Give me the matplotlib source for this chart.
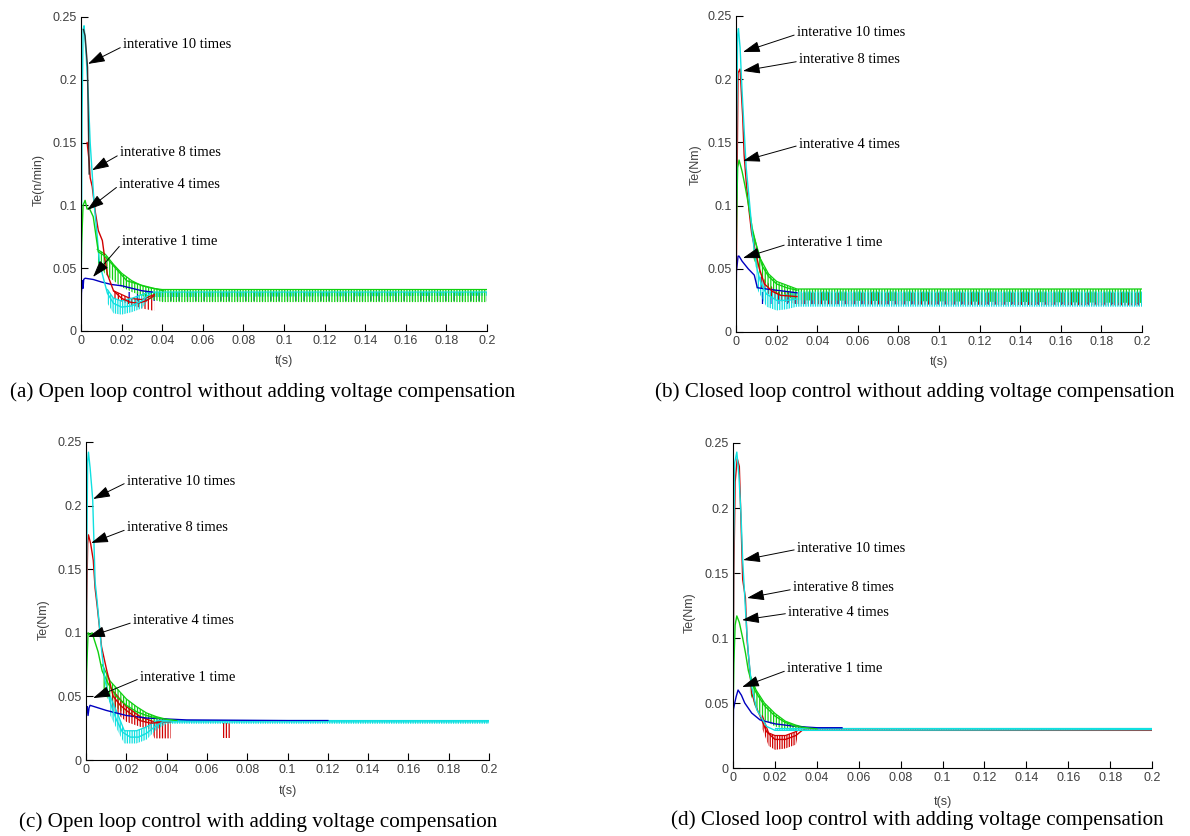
import numpy as np
import matplotlib
matplotlib.use("Agg")
import matplotlib.pyplot as plt
from matplotlib.ticker import FormatStrFormatter

plt.rcParams['hatch.linewidth'] = 0.9

BLUE = '#0000c0'
GREEN = '#10d010'
RED = '#d00000'
CYAN = '#10e0e0'

# ---------------- (a) open loop, no compensation ----------------
a_blue_t = [0, 0.0002, 0.0006, 0.001, 0.0013, 0.002, 0.006, 0.01, 0.015, 0.02, 0.025, 0.03, 0.035]
a_blue_v = [0, 0.03, 0.04, 0.034, 0.041, 0.042, 0.041, 0.039, 0.037, 0.036, 0.034, 0.032, 0.031]
a_green_t = [0, 0.0003, 0.001, 0.002, 0.003, 0.004, 0.006, 0.0085, 0.011, 0.0143, 0.0225, 0.0307, 0.0406]
a_green_v = [0.04, 0.07, 0.1, 0.104, 0.097, 0.098, 0.091, 0.063, 0.0605, 0.055, 0.04, 0.036, 0.032]
a_red_t = [0.003, 0.004, 0.0045, 0.0055, 0.007, 0.0085, 0.0105, 0.0115, 0.013, 0.016, 0.02, 0.024, 0.028, 0.032, 0.036]
a_red_v = [0.15, 0.135, 0.122, 0.115, 0.095, 0.08, 0.072, 0.06, 0.045, 0.032, 0.026, 0.023, 0.022, 0.024, 0.028]
a_cyan_t = [0, 0.0005, 0.001, 0.0015, 0.0025, 0.0035, 0.0045, 0.0055, 0.0065, 0.008, 0.009, 0.011, 0.013, 0.016, 0.02, 0.025, 0.03, 0.034]
a_cyan_v = [0, 0.17, 0.24, 0.243, 0.22, 0.19, 0.15, 0.125, 0.10, 0.075, 0.055, 0.042, 0.03, 0.022, 0.019, 0.02, 0.024, 0.03]
a_dark_t = [0.0012, 0.002, 0.0032, 0.0035, 0.004]
a_dark_v = [0.24, 0.235, 0.21, 0.176, 0.125]
# ripple bands (t, low, high)
a_green_bt = [0.008, 0.012, 0.016, 0.02, 0.025, 0.03, 0.035, 0.04, 0.2]
a_green_lo = [0.055, 0.045, 0.04, 0.035, 0.031, 0.028, 0.025, 0.023, 0.023]
a_green_hi = [0.065, 0.061, 0.053, 0.046, 0.04, 0.036, 0.034, 0.033, 0.033]
a_red_bt = [0.016, 0.024, 0.03, 0.036]
a_red_lo = [0.026, 0.021, 0.018, 0.016]
a_red_hi = [0.032, 0.026, 0.025, 0.029]
a_cyan_bt = [0.013, 0.016, 0.02, 0.025, 0.03, 0.034, 0.2]
a_cyan_lo = [0.022, 0.014, 0.013, 0.015, 0.018, 0.027, 0.028]
a_cyan_hi = [0.033, 0.026, 0.024, 0.026, 0.029, 0.031, 0.031]
a_blue_bt = [0.02, 0.2]
a_blue_lo = [0.024, 0.024]
a_blue_hi = [0.031, 0.031]

# ---------------- (b) closed loop, no compensation ----------------
b_blue_t = [0, 0.0002, 0.0005, 0.001, 0.0015, 0.003, 0.006, 0.009, 0.0105, 0.015, 0.02, 0.03]
b_blue_v = [0, 0.048, 0.052, 0.06, 0.06, 0.056, 0.05, 0.045, 0.035, 0.034, 0.033, 0.031]
b_green_t = [0, 0.0003, 0.0008, 0.0015, 0.003, 0.0045, 0.006, 0.008, 0.0105, 0.013, 0.016, 0.02, 0.025, 0.03]
b_green_v = [0.05, 0.09, 0.13, 0.136, 0.127, 0.115, 0.102, 0.082, 0.065, 0.052, 0.044, 0.038, 0.035, 0.033]
b_red_t = [0, 0.0003, 0.001, 0.002, 0.0033, 0.004, 0.0052, 0.0065, 0.0077, 0.0094, 0.0115, 0.014, 0.018, 0.022, 0.03]
b_red_v = [0, 0.08, 0.205, 0.208, 0.17, 0.14, 0.115, 0.095, 0.078, 0.065, 0.05, 0.038, 0.032, 0.029, 0.028]
b_cyan_t = [0, 0.0003, 0.0008, 0.0012, 0.002, 0.003, 0.004, 0.005, 0.0065, 0.008, 0.01, 0.012, 0.015, 0.02, 0.025, 0.03]
b_cyan_v = [0.0, 0.16, 0.235, 0.24, 0.225, 0.19, 0.16, 0.13, 0.105, 0.078, 0.052, 0.04, 0.03, 0.025, 0.025, 0.026]
b_green_bt = [0.008, 0.012, 0.016, 0.02, 0.03, 0.2]
b_green_lo = [0.06, 0.045, 0.035, 0.03, 0.025, 0.023]
b_green_hi = [0.08, 0.058, 0.046, 0.04, 0.034, 0.034]
b_red_bt = [0.012, 0.02, 0.03, 0.2]
b_red_lo = [0.035, 0.025, 0.022, 0.021]
b_red_hi = [0.045, 0.032, 0.031, 0.031]
b_cyan_bt = [0.01, 0.015, 0.02, 0.025, 0.03, 0.2]
b_cyan_lo = [0.035, 0.02, 0.017, 0.018, 0.02, 0.02]
b_cyan_hi = [0.05, 0.035, 0.03, 0.03, 0.032, 0.032]
b_blue_bt = [0.01, 0.2]
b_blue_lo = [0.022, 0.022]
b_blue_hi = [0.032, 0.032]

# ---------------- (c) open loop, with compensation ----------------
c_blue_t = [0, 0.0002, 0.0006, 0.001, 0.0015, 0.002, 0.004, 0.01, 0.02, 0.03, 0.05, 0.1, 0.12]
c_blue_v = [0.02, 0.04, 0.042, 0.035, 0.041, 0.043, 0.042, 0.039, 0.035, 0.033, 0.0315, 0.031, 0.031]
c_green_t = [0, 0.0003, 0.001, 0.002, 0.003, 0.004, 0.006, 0.008, 0.011, 0.015, 0.02, 0.025, 0.03, 0.035, 0.045]
c_green_v = [0.04, 0.07, 0.1, 0.098, 0.1, 0.095, 0.085, 0.07, 0.06, 0.05, 0.043, 0.038, 0.035, 0.033, 0.031]
c_red_t = [0, 0.0003, 0.0008, 0.0012, 0.0023, 0.0036, 0.0045, 0.0056, 0.0077, 0.0102, 0.0135, 0.017, 0.02, 0.0267, 0.032, 0.042]
c_red_v = [0.05, 0.12, 0.17, 0.177, 0.17, 0.157, 0.135, 0.12, 0.089, 0.071, 0.05, 0.043, 0.039, 0.031, 0.029, 0.03]
c_cyan_t = [0, 0.0003, 0.0008, 0.0012, 0.002, 0.0033, 0.0045, 0.0055, 0.0065, 0.0078, 0.0095, 0.012, 0.015, 0.018, 0.022, 0.026, 0.03, 0.034, 0.038, 0.2]
c_cyan_v = [0, 0.15, 0.235, 0.242, 0.23, 0.205, 0.14, 0.125, 0.108, 0.085, 0.062, 0.045, 0.032, 0.022, 0.018, 0.018, 0.021, 0.026, 0.03, 0.03]
c_green_bt = [0.008, 0.012, 0.016, 0.02, 0.025, 0.03, 0.035, 0.04]
c_green_lo = [0.055, 0.045, 0.04, 0.036, 0.032, 0.03, 0.029, 0.03]
c_green_hi = [0.075, 0.062, 0.055, 0.048, 0.042, 0.037, 0.034, 0.032]
c_red_bt = [0.013, 0.02, 0.027, 0.032, 0.034, 0.042]
c_red_lo = [0.04, 0.03, 0.026, 0.024, 0.017, 0.017]
c_red_hi = [0.055, 0.042, 0.034, 0.031, 0.03, 0.03]
c_red2_bt = [0.068, 0.0715]
c_red2_lo = [0.017, 0.017]
c_red2_hi = [0.029, 0.029]
c_cyan_bt = [0.012, 0.016, 0.019, 0.025, 0.03, 0.035, 0.04, 0.2]
c_cyan_lo = [0.035, 0.022, 0.013, 0.013, 0.016, 0.024, 0.0285, 0.0285]
c_cyan_hi = [0.05, 0.035, 0.023, 0.023, 0.026, 0.031, 0.031, 0.031]

# ---------------- (d) closed loop, with compensation ----------------
d_blue_t = [0, 0.0002, 0.0008, 0.0015, 0.0024, 0.004, 0.0056, 0.0089, 0.0129, 0.02, 0.03, 0.04, 0.052]
d_blue_v = [0, 0.045, 0.05, 0.055, 0.06, 0.056, 0.05, 0.0423, 0.037, 0.034, 0.032, 0.031, 0.031]
d_green_t = [0, 0.0004, 0.001, 0.0018, 0.003, 0.0046, 0.006, 0.0073, 0.009, 0.011, 0.015, 0.02, 0.025, 0.03, 0.04]
d_green_v = [0.04, 0.08, 0.11, 0.117, 0.112, 0.1, 0.088, 0.075, 0.065, 0.058, 0.048, 0.04, 0.035, 0.032, 0.03]
d_red_t = [0, 0.0004, 0.001, 0.002, 0.003, 0.0038, 0.0046, 0.0059, 0.0067, 0.008, 0.0089, 0.011, 0.0137, 0.016, 0.02, 0.025, 0.03, 0.033, 0.2]
d_red_v = [0.05, 0.15, 0.22, 0.238, 0.232, 0.19, 0.145, 0.131, 0.0985, 0.0754, 0.0577, 0.047, 0.037, 0.028, 0.022, 0.022, 0.025, 0.029, 0.029]
d_cyan_t = [0, 0.0003, 0.0008, 0.0018, 0.0028, 0.0038, 0.0046, 0.0062, 0.0073, 0.0089, 0.0113, 0.016, 0.02, 0.03, 0.2]
d_cyan_v = [0, 0.17, 0.235, 0.243, 0.225, 0.195, 0.16, 0.114, 0.088, 0.0625, 0.045, 0.032, 0.029, 0.029, 0.0295]
d_green_bt = [0.008, 0.011, 0.015, 0.02, 0.025, 0.03, 0.035]
d_green_lo = [0.058, 0.045, 0.037, 0.032, 0.03, 0.029, 0.029]
d_green_hi = [0.072, 0.06, 0.05, 0.042, 0.036, 0.033, 0.031]
d_red_bt = [0.014, 0.017, 0.02, 0.025, 0.03, 0.031]
d_red_lo = [0.03, 0.017, 0.014, 0.015, 0.018, 0.026]
d_red_hi = [0.04, 0.027, 0.025, 0.025, 0.028, 0.029]
d_cyan_bt = [0.02, 0.2]
d_cyan_lo = [0.0285, 0.0285]
d_cyan_hi = [0.0305, 0.0305]

ann_labels = ['interative 10 times', 'interative 8 times', 'interative 4 times', 'interative 1 time']
# arrow head (t, v) and text anchor (t, v) per panel
a_heads = [(0.0034, 0.2126), (0.0054, 0.128), (0.003, 0.0963), (0.0059, 0.043)]
a_texts = [(0.0207, 0.2277), (0.0192, 0.1417), (0.0188, 0.117), (0.0202, 0.0709)]
b_heads = [(0.0034, 0.2215), (0.0034, 0.2065), (0.0034, 0.1353), (0.0034, 0.0585)]
b_texts = [(0.030, 0.2366), (0.031, 0.2152), (0.031, 0.1487), (0.0251, 0.0704)]
c_heads = [(0.0035, 0.2052), (0.0025, 0.1706), (0.001, 0.0967), (0.0035, 0.0487)]
c_texts = [(0.0203, 0.2193), (0.0203, 0.1824), (0.0233, 0.1093), (0.0268, 0.0652)]
d_heads = [(0.0048, 0.16), (0.0067, 0.1308), (0.0043, 0.1138), (0.0043, 0.0623)]
d_texts = [(0.0305, 0.1692), (0.0286, 0.1385), (0.0263, 0.12), (0.0258, 0.0762)]

captions = ['(a) Open loop control without adding voltage compensation',
            '(b) Closed loop control without adding voltage compensation',
            '(c) Open loop control with adding voltage compensation',
            '(d) Closed loop control with adding voltage compensation']
ylabels = ['Te(n/min)', 'Te(Nm)', 'Te(Nm)', 'Te(Nm)']
xticks = [0, 0.02, 0.04, 0.06, 0.08, 0.1, 0.12, 0.14, 0.16, 0.18, 0.2]
yticks = [0, 0.05, 0.1, 0.15, 0.2, 0.25]

# band entries: t, low, high, colour, hatch, draw top edge
panels = [
    dict(curves=[(a_blue_t, a_blue_v, BLUE), (a_red_t, a_red_v, RED), (a_cyan_t, a_cyan_v, CYAN),
                 (a_green_t, a_green_v, GREEN), (a_dark_t, a_dark_v, '#303030')],
         bands=[(a_blue_bt, a_blue_lo, a_blue_hi, BLUE, '||', False),
                (a_red_bt, a_red_lo, a_red_hi, RED, '|||||', True),
                (a_cyan_bt, a_cyan_lo, a_cyan_hi, CYAN, '|||||||', True),
                (a_green_bt, a_green_lo, a_green_hi, GREEN, '||||||', True)],
         heads=a_heads, texts=a_texts, rect=[0.0681, 0.6041, 0.3412, 0.3756],
         cap=(0.221, 0.531), ylab=(-0.09, 0.48), xlab=-0.076),
    dict(curves=[(b_blue_t, b_blue_v, BLUE), (b_red_t, b_red_v, RED), (b_green_t, b_green_v, GREEN),
                 (b_cyan_t, b_cyan_v, CYAN)],
         bands=[(b_blue_bt, b_blue_lo, b_blue_hi, BLUE, '||', False),
                (b_red_bt, b_red_lo, b_red_hi, RED, '|||||', False),
                (b_green_bt, b_green_lo, b_green_hi, GREEN, '||||||', True),
                (b_cyan_bt, b_cyan_lo, b_cyan_hi, CYAN, '|||||||', False)],
         heads=b_heads, texts=b_texts, rect=[0.6185, 0.6029, 0.3412, 0.378],
         cap=(0.769, 0.531), ylab=(-0.085, 0.53), xlab=-0.076),
    dict(curves=[(c_blue_t, c_blue_v, BLUE), (c_green_t, c_green_v, GREEN), (c_red_t, c_red_v, RED),
                 (c_cyan_t, c_cyan_v, CYAN)],
         bands=[(c_green_bt, c_green_lo, c_green_hi, GREEN, '||||||', True),
                (c_red_bt, c_red_lo, c_red_hi, RED, '||||||', True),
                (c_red2_bt, c_red2_lo, c_red2_hi, RED, '||||||', False),
                (c_cyan_bt, c_cyan_lo, c_cyan_hi, CYAN, '|||||||', True)],
         heads=c_heads, texts=c_texts, rect=[0.0723, 0.0909, 0.3387, 0.3804],
         cap=(0.217, 0.0167), ylab=(-0.09, 0.44), xlab=-0.079),
    dict(curves=[(d_red_t, d_red_v, RED), (d_blue_t, d_blue_v, BLUE), (d_green_t, d_green_v, GREEN),
                 (d_cyan_t, d_cyan_v, CYAN)],
         bands=[(d_green_bt, d_green_lo, d_green_hi, GREEN, '||||||', True),
                (d_red_bt, d_red_lo, d_red_hi, RED, '|||||||', True),
                (d_cyan_bt, d_cyan_lo, d_cyan_hi, CYAN, '|||||||', True)],
         heads=d_heads, texts=d_texts, rect=[0.616, 0.0813, 0.3521, 0.3888],
         cap=(0.771, 0.019), ylab=(-0.09, 0.477), xlab=-0.086),
]

fig = plt.figure(figsize=(11.9, 8.36), dpi=100)
tick_col = '#404040'

for i, p in enumerate(panels):
    ax = fig.add_axes(p['rect'])
    for bt, lo, hi, col, hatch, edge in p['bands']:
        ax.fill_between(bt, lo, hi, facecolor='none', edgecolor=col, hatch=hatch, linewidth=0)
        if edge:
            ax.plot(bt, hi, color=col, lw=0.9)
    for t, v, col in p['curves']:
        ax.plot(t, v, color=col, lw=1.0)

    for lab, (hx, hy), (tx, ty) in zip(ann_labels, p['heads'], p['texts']):
        ax.annotate(lab, xy=(hx, hy), xytext=(tx, ty), ha='left', va='center',
                    fontsize=10.5, family='Liberation Serif',
                    arrowprops=dict(arrowstyle='-|>,head_length=1.0,head_width=0.32', color='k',
                                    lw=0.7, shrinkA=0, shrinkB=0, relpos=(0, 0.4)))

    ax.set_xlim(0, 0.2)
    ax.set_ylim(0, 0.25)
    ax.set_xticks(xticks)
    ax.set_yticks(yticks)
    ax.xaxis.set_major_formatter(FormatStrFormatter('%g'))
    ax.yaxis.set_major_formatter(FormatStrFormatter('%g'))
    ax.tick_params(direction='in', length=5, width=0.8, labelsize=9, labelcolor=tick_col, pad=3)
    for lab in ax.get_xticklabels() + ax.get_yticklabels():
        lab.set_family('Liberation Sans')
    ax.spines['top'].set_visible(False)
    ax.spines['right'].set_visible(False)
    ax.set_xlabel('t(s)', fontsize=9, color=tick_col, family='Liberation Sans')
    ax.set_ylabel(ylabels[i], fontsize=9, color=tick_col, family='Liberation Sans')
    ax.xaxis.set_label_coords(0.5, p['xlab'])
    ax.yaxis.set_label_coords(p['ylab'][0], p['ylab'][1])

    fig.text(p['cap'][0], p['cap'][1], captions[i], ha='center', va='center',
             fontsize=15.2, family='Liberation Serif')

fig.savefig('out.png', dpi=100)
